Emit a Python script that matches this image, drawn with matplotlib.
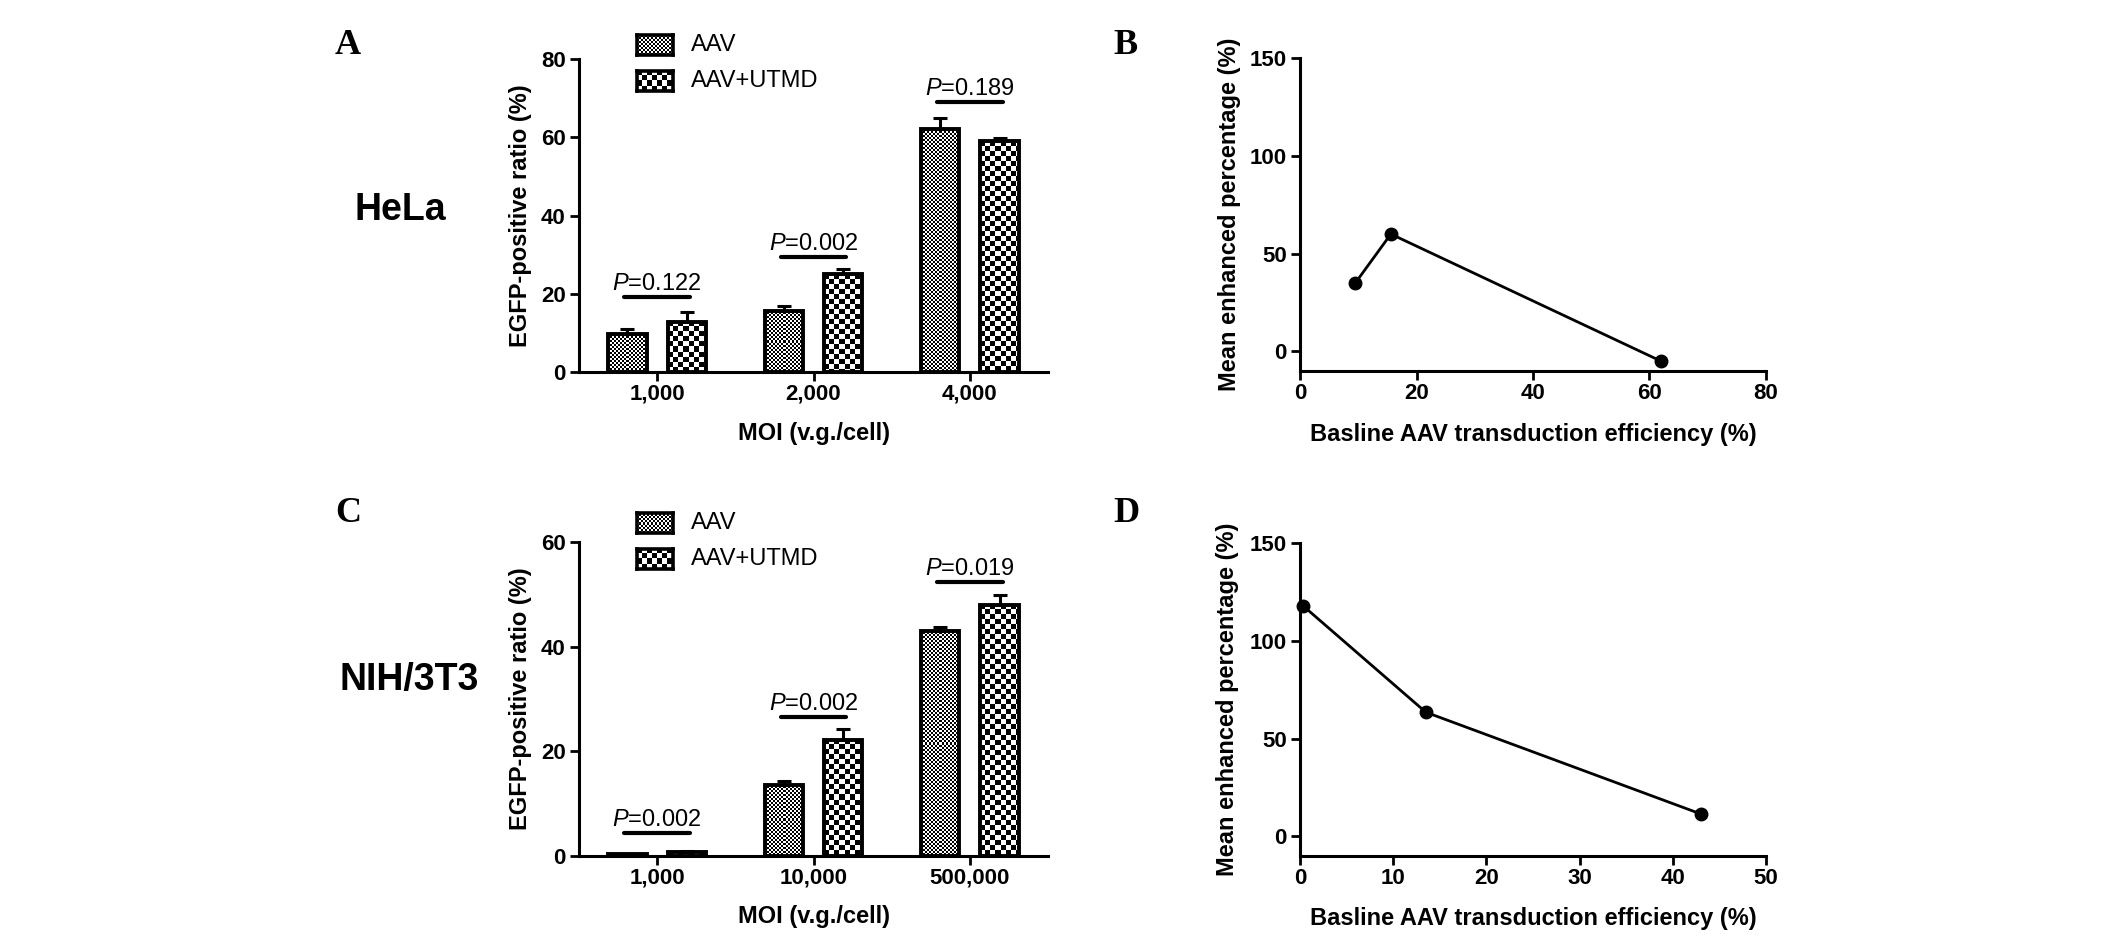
import numpy as np
import matplotlib
matplotlib.use('Agg')
import matplotlib.pyplot as plt
from matplotlib import font_manager

# bar chart data (HeLa, panel A)
hela_moi = ['1,000', '2,000', '4,000']
hela_aav = [9.6, 15.6, 62.0]
hela_aav_err = [1.4, 1.3, 3.0]
hela_utmd = [12.8, 25.0, 59.0]
hela_utmd_err = [2.6, 1.4, 0.7]
hela_p = ['0.122', '0.002', '0.189']
hela_sig_y = [19.2, 29.5, 69.0]

# bar chart data (NIH/3T3, panel C)
nih_moi = ['1,000', '10,000', '500,000']
nih_aav = [0.3, 13.6, 43.0]
nih_aav_err = [0.1, 0.8, 0.8]
nih_utmd = [0.7, 22.2, 48.0]
nih_utmd_err = [0.2, 2.0, 1.8]
nih_p = ['0.002', '0.002', '0.019']
nih_sig_y = [4.4, 26.6, 52.4]

# line chart data (panels B and D)
hela_baseline = [9.5, 15.6, 62.0]
hela_enhanced = [35.0, 60.0, -5.0]
nih_baseline = [0.3, 13.5, 43.0]
nih_enhanced = [118.0, 63.5, 11.5]

W, H = 2126, 941


def pick_font():
    names = {f.name for f in font_manager.fontManager.ttflist}
    for n in ['Liberation Sans', 'Arial', 'DejaVu Sans']:
        if n in names:
            return n
    return 'DejaVu Sans'


SANS = pick_font()
plt.rcParams['font.family'] = [SANS, 'DejaVu Sans']
plt.rcParams['mathtext.fontset'] = 'custom'
plt.rcParams['mathtext.rm'] = SANS
plt.rcParams['mathtext.it'] = SANS + ':italic'


def checker(ny, nx, cell, sq):
    i, j = np.indices((ny, nx))
    on = ((i // cell + j // cell) % 2 == 0) & (i % cell < sq) & (j % cell < sq)
    return np.where(on, 0.0, 1.0)


# fine checker for AAV, coarse checker for AAV+UTMD
PATTERNS = {'aav': (2, 2), 'utmd': (5, 5)}


def fill_bars(ax, bars, kind):
    cell, sq = PATTERNS[kind]
    for b in bars:
        x0, y0 = b.get_x(), b.get_y()
        w, h = b.get_width(), b.get_height()
        (px0, py0), (px1, py1) = ax.transData.transform([(x0, y0), (x0 + w, y0 + h)])
        nx = max(int(round(px1 - px0)), 1)
        ny = max(int(round(py1 - py0)), 1)
        ax.imshow(checker(ny, nx, cell, sq), cmap='gray', vmin=0, vmax=1,
                  extent=(x0, x0 + w, y0, y0 + h), origin='upper',
                  aspect='auto', interpolation='nearest', zorder=2)


def box(l, t, r, b):
    # pixel box (from top-left) -> figure fraction rect
    return [l / W, 1 - b / H, (r - l) / W, (b - t) / H]


def style_axes(ax):
    for s in ['top', 'right']:
        ax.spines[s].set_visible(False)
    for s in ['left', 'bottom']:
        ax.spines[s].set_linewidth(2.2)
    ax.tick_params(direction='out', length=6.5, width=2, pad=3, labelsize=16)
    ax.tick_params(axis='x', pad=2)
    for lab in ax.get_xticklabels() + ax.get_yticklabels():
        lab.set_fontweight('bold')


def legend_swatch(fig, rect, kind):
    lax = fig.add_axes(rect)
    cell, sq = PATTERNS[kind]
    pw = int(round(rect[2] * W))
    ph = int(round(rect[3] * H))
    lax.imshow(checker(ph, pw, cell, sq), cmap='gray', vmin=0, vmax=1,
               aspect='auto', interpolation='nearest')
    lax.set_xticks([])
    lax.set_yticks([])
    for s in lax.spines.values():
        s.set_linewidth(2.6)


def bar_panel(fig, rect, labels, aav, aav_err, utmd, utmd_err, pvals, sig_y,
              ymax, legend_top, xlab_y):
    ax = fig.add_axes(rect)
    x = np.arange(len(labels))
    off, bw = 0.19, 0.245
    ax.set_xlim(-0.5, 2.5)
    ax.set_ylim(0, ymax)
    b1 = ax.bar(x - off, aav, bw, facecolor='none', edgecolor='black',
                linewidth=2.8, zorder=3)
    b2 = ax.bar(x + off, utmd, bw, facecolor='none', edgecolor='black',
                linewidth=2.8, zorder=3)
    fill_bars(ax, b1, 'aav')
    fill_bars(ax, b2, 'utmd')
    ax.errorbar(x - off, aav, yerr=[np.zeros(len(aav)), aav_err], fmt='none',
                ecolor='black', elinewidth=2.2, capsize=5, capthick=2.2, zorder=2.5)
    ax.errorbar(x + off, utmd, yerr=[np.zeros(len(utmd)), utmd_err], fmt='none',
                ecolor='black', elinewidth=2.2, capsize=5, capthick=2.2, zorder=2.5)
    for xi, p, yy in zip(x, pvals, sig_y):
        ax.plot([xi - 0.21, xi + 0.21], [yy, yy], color='black', lw=3,
                solid_capstyle='round', clip_on=False)
        ax.annotate(r'$P$=' + p, xy=(xi, yy), xytext=(0, 5),
                    textcoords='offset points', ha='center', va='baseline',
                    fontsize=17, annotation_clip=False)
    ax.set_xlim(-0.5, 2.5)
    ax.set_ylim(0, ymax)
    ax.set_yticks(np.arange(0, ymax + 1, 20))
    ax.set_xticks(x)
    ax.set_xticklabels(labels)
    style_axes(ax)
    ax.set_ylabel('EGFP-positive ratio (%)', fontsize=17, fontweight='bold')
    ax.set_xlabel('MOI (v.g./cell)', fontsize=17, fontweight='bold')
    ax.yaxis.set_label_coords(-0.10, 0.5)
    ax.xaxis.set_label_coords(0.5, xlab_y)

    # legend built from two swatches
    t = legend_top
    legend_swatch(fig, box(637, t, 673, t + 20), 'aav')
    legend_swatch(fig, box(637, t + 36, 673, t + 56), 'utmd')
    fig.text(691 / W, 1 - (t + 10) / H, 'AAV', fontsize=17, va='center')
    fig.text(691 / W, 1 - (t + 46) / H, 'AAV+UTMD', fontsize=17, va='center')
    return ax


def line_panel(fig, rect, xs, ys, xmax, xstep, ylab_x, xlab_y):
    ax = fig.add_axes(rect)
    ax.plot(xs, ys, '-o', color='black', lw=2, ms=9, clip_on=False, zorder=3)
    ax.set_xlim(0, xmax)
    ax.set_ylim(-10, 150)
    ax.set_xticks(np.arange(0, xmax + 1, xstep))
    ax.set_yticks([0, 50, 100, 150])
    style_axes(ax)
    ax.set_ylabel('Mean enhanced percentage (%)', fontsize=17, fontweight='bold')
    ax.set_xlabel('Basline AAV transduction efficiency (%)', fontsize=17,
                  fontweight='bold')
    ax.yaxis.set_label_coords(ylab_x, 0.5)
    ax.xaxis.set_label_coords(0.5, xlab_y)
    return ax


fig = plt.figure(figsize=(W / 100, H / 100), dpi=100)

bar_panel(fig, box(579, 59, 1048, 372), hela_moi, hela_aav, hela_aav_err,
          hela_utmd, hela_utmd_err, hela_p, hela_sig_y, 80, 35, -0.16)
bar_panel(fig, box(579, 542, 1048, 856), nih_moi, nih_aav, nih_aav_err,
          nih_utmd, nih_utmd_err, nih_p, nih_sig_y, 60, 513, -0.156)

line_panel(fig, box(1300, 58, 1766, 371), hela_baseline, hela_enhanced, 80, 20,
           -0.127, -0.166)
line_panel(fig, box(1300, 543, 1766, 856), nih_baseline, nih_enhanced, 50, 10,
           -0.13, -0.163)

# panel letters and cell-line names
serif = dict(fontsize=26, fontweight='bold', family=['Liberation Serif', 'DejaVu Serif'])
fig.text(335 / W, 1 - 46 / H, 'A', va='center', ha='left', **serif)
fig.text(335 / W, 1 - 514 / H, 'C', va='center', ha='left', **serif)
fig.text(1113 / W, 1 - 45 / H, 'B', va='center', ha='left', **serif)
fig.text(1113 / W, 1 - 513 / H, 'D', va='center', ha='left', **serif)
fig.text(400 / W, 1 - 210 / H, 'HeLa', fontsize=27, fontweight='bold',
         ha='center', va='center')
fig.text(409 / W, 1 - 680 / H, 'NIH/3T3', fontsize=27, fontweight='bold',
         ha='center', va='center')

fig.savefig('out.png', dpi=100)
